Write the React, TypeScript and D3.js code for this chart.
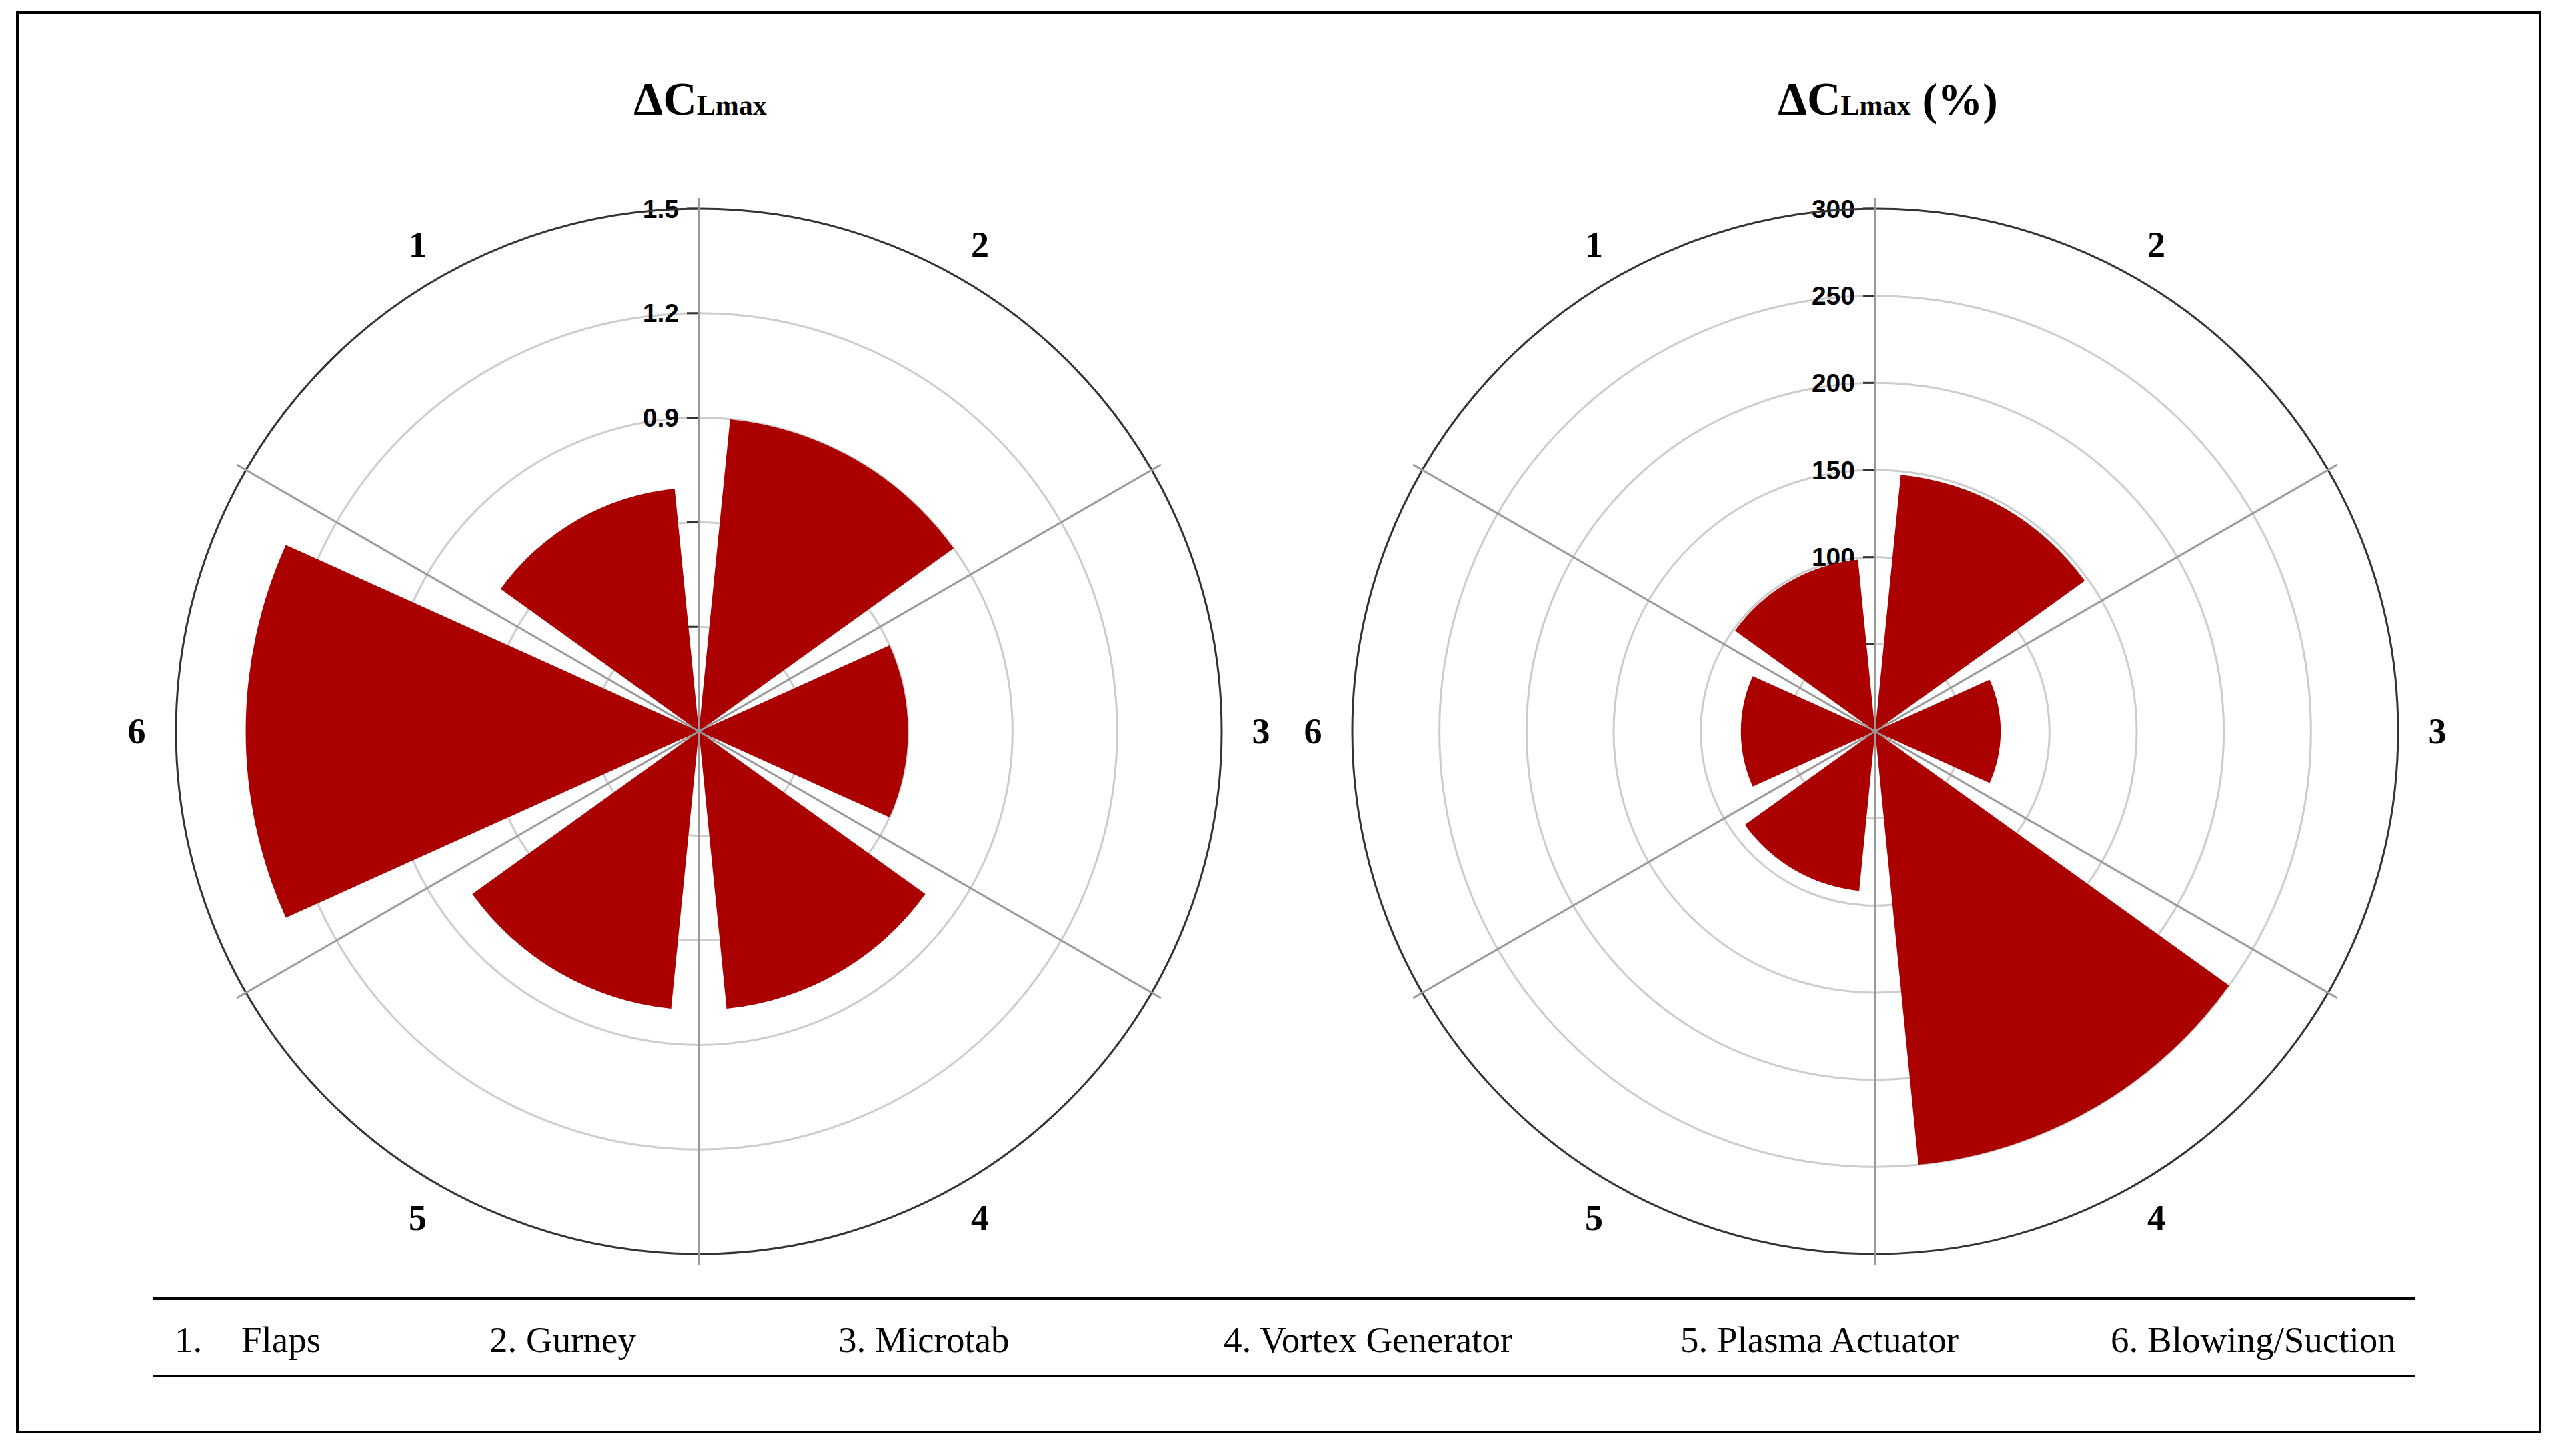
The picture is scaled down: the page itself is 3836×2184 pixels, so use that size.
import React from 'react'
import * as d3 from 'd3'

const categories = ['1', '2', '3', '4', '5', '6']
const legendNames = ['Flaps', 'Gurney', 'Microtab', 'Vortex Generator', 'Plasma Actuator', 'Blowing/Suction']
// ΔCLmax values per method
const deltaCl = [0.7, 0.9, 0.6, 0.8, 0.8, 1.3]
// ΔCLmax in percent
const deltaClPct = [99, 148, 72, 250, 92, 77]
const ticksCl = [0.3, 0.6, 0.9, 1.2, 1.5]
const ticksPct = [50, 100, 150, 200, 250, 300]

const W = 3836, H = 2184
const R = 784
const CY = 1097
const BAR = '#aa0000'
const A0 = -Math.PI / 3

function Polar({ cx, values, max, ticks, fmt }: any) {
  const x = d3.scaleBand<string>().domain(categories).range([A0, A0 + 2 * Math.PI]).paddingInner(0.19).paddingOuter(0.095)
  const y = d3.scaleLinear().domain([0, max]).range([0, R])
  const step = x.step()
  const arc = d3.arc<any>()
    .innerRadius(0)
    .outerRadius((d: any) => y(d.v))
    .startAngle((d: any) => x(d.k)!)
    .endAngle((d: any) => x(d.k)! + x.bandwidth())
  const pt = (a: number, r: number) => [Math.sin(a) * r, -Math.cos(a) * r]
  return (
    <g transform={`translate(${cx},${CY})`}>
      {/* grid circles */}
      {ticks.slice(0, -1).map((t: number) => (
        <circle key={t} r={y(t)} fill="none" stroke="#cccccc" strokeWidth={3} />
      ))}
      {/* tick marks and labels */}
      {ticks.map((t: number) => (
        <g key={'t' + t}>
          <line x1={-18} x2={0} y1={-y(t)} y2={-y(t)} stroke="#333" strokeWidth={3} />
          <text x={-30} y={-y(t)} textAnchor="end" dominantBaseline="central"
            fontFamily="Liberation Sans, Arial, sans-serif" fontWeight="bold" fontSize={39}>{fmt(t)}</text>
        </g>
      ))}
      {/* bars */}
      {values.map((v: number, i: number) => (
        <path key={'b' + i} d={arc({ k: categories[i], v }) || ''} fill={BAR} />
      ))}
      {/* outer circle */}
      <circle r={R} fill="none" stroke="#333" strokeWidth={3} />
      {/* spokes */}
      {categories.map((c, i) => {
        const [ex, ey] = pt(A0 + i * step, R + 16)
        return <line key={'s' + c} x1={0} y1={0} x2={ex} y2={ey} stroke="#999" strokeWidth={3} />
      })}
      {/* category labels */}
      {categories.map((c) => {
        const [lx, ly] = pt(x(c)! + x.bandwidth() / 2, 843)
        return (
          <text key={'l' + c} x={lx} y={ly} textAnchor="middle" dominantBaseline="central"
            fontFamily="Liberation Serif, Times New Roman, serif" fontWeight="bold" fontSize={54}>{c}</text>
        )
      })}
    </g>
  )
}

const legendX = [262, 734, 1257, 1835, 2520, 3165]

export default function App() {
  return (
    <svg width={W} height={H} style={{ position: 'absolute', left: 0, top: 0, display: 'block', background: '#fff' }}>
      <rect x={26} y={19} width={3783} height={2129} fill="#fff" stroke="#000" strokeWidth={4} />

      <text x={1050} y={172} textAnchor="middle" fontFamily="Liberation Serif, Times New Roman, serif" fontWeight="bold">
        <tspan fontSize={70}>ΔC</tspan><tspan fontSize={42}>Lmax</tspan>
      </text>
      <text x={2831} y={172} textAnchor="middle" fontFamily="Liberation Serif, Times New Roman, serif" fontWeight="bold">
        <tspan fontSize={70}>ΔC</tspan><tspan fontSize={42}>Lmax</tspan><tspan fontSize={68}> (%)</tspan>
      </text>

      <Polar cx={1048} values={deltaCl} max={1.5} ticks={ticksCl} fmt={(t: number) => t.toFixed(1)} />
      <Polar cx={2812} values={deltaClPct} max={300} ticks={ticksPct} fmt={(t: number) => String(t)} />

      <line x1={229} x2={3621} y1={1948} y2={1948} stroke="#000" strokeWidth={4} />
      <line x1={229} x2={3621} y1={2064} y2={2064} stroke="#000" strokeWidth={4} />
      {legendNames.map((n, i) => (
        i === 0 ? (
          <g key={n} fontFamily="Liberation Serif, Times New Roman, serif" fontSize={55}>
            <text x={legendX[i]} y={2028}>{`${i + 1}.`}</text>
            <text x={legendX[i] + 100} y={2028}>{n}</text>
          </g>
        ) : (
          <text key={n} x={legendX[i]} y={2028} fontFamily="Liberation Serif, Times New Roman, serif" fontSize={55}>{`${i + 1}. ${n}`}</text>
        )
      ))}
    </svg>
  )
}
